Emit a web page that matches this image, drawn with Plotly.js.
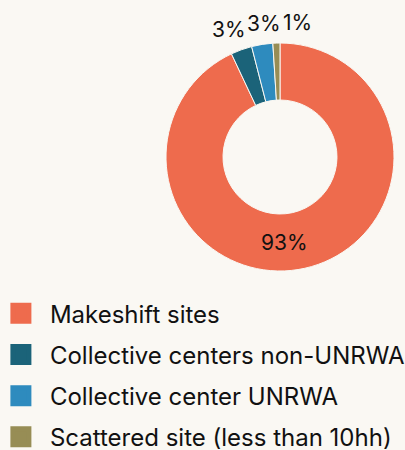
<!DOCTYPE html>
<html>
<head>
<meta charset="utf-8">
<script src="https://cdn.plot.ly/plotly-3.0.1.min.js"></script>
<style>html,body{margin:0;padding:0;background:#faf8f3;}#chart{width:405px;height:450px;}</style>
</head>
<body>
<div id="chart"></div>
<script>
const categories = ["Makeshift sites", "Collective centers non-UNRWA", "Collective center UNRWA", "Scattered site (less than 10hh)"];
const shares = [93, 3, 3, 1];
const colors = ["#ee6b4d", "#1b6379", "#2e8bbe", "#978d55"];

const W = 405, H = 450;
const CX = 280, CY = 157, R = 114, HOLE = 0.5;   // donut placement in pixels
const LABEL_FS = 21;
const total = shares.reduce((a, b) => a + b, 0);
const fmtPct = v => Math.round(100 * v / total) + "%";

const pie = {
  type: "pie",
  labels: categories,
  values: shares,
  sort: false,
  direction: "clockwise",
  rotation: 0,
  hole: HOLE,
  marker: {colors: colors, line: {color: "#faf8f3", width: 1}},
  textinfo: "none",
  showlegend: false,
  domain: {x: [(CX - R) / W, (CX + R) / W], y: [1 - (CY + R) / H, 1 - (CY - R) / H]}
};

// percentage labels placed from each slice's angles
const annotations = [];
let cum = 0, prevRight = -Infinity;
shares.forEach((v, i) => {
  const a0 = cum / total * 2 * Math.PI;
  cum += v;
  const a1 = cum / total * 2 * Math.PI;
  const mid = (a0 + a1) / 2;
  const txt = fmtPct(v);
  const font = {family: "Inter", size: LABEL_FS, color: "#111111"};
  if (v / total >= 0.1) {
    // large slice: inside the ring, at the slice angle nearest the bottom
    const ang = Math.min(Math.max(Math.PI, a0), a1);
    const rm = R * (1 + HOLE) / 2;
    annotations.push({
      text: txt, xref: "paper", yref: "paper",
      x: (CX + rm * Math.sin(ang)) / W, y: 1 - (CY - rm * Math.cos(ang)) / H,
      xanchor: "center", yanchor: "middle", xshift: 4, showarrow: false, font: font
    });
    return;
  }
  const w = txt.length * 0.7 * LABEL_FS;
  const rr = R + 6;
  const px = CX + rr * Math.sin(mid), py = CY - rr * Math.cos(mid);
  let left = Math.sin(mid) < -0.1 ? px - w : (Math.sin(mid) > 0.1 ? px : px - w / 2);
  left = Math.max(left, prevRight + 6);
  prevRight = left + w;
  annotations.push({
    text: txt, xref: "paper", yref: "paper",
    x: left / W, y: 1 - py / H, xanchor: "left", yanchor: "bottom",
    showarrow: false, font: font
  });
});

const legendTraces = categories.map((c, i) => ({
  type: "scatter",
  mode: "markers",
  x: [null], y: [null],
  name: c,
  legendgroup: "g" + i,
  marker: {symbol: "square", size: 16, color: colors[i], line: {color: colors[i], width: 5}},
  showlegend: true,
  hoverinfo: "skip"
}));

const layout = {
  width: W, height: H,
  margin: {l: 0, r: 0, t: 0, b: 0, autoexpand: false},
  paper_bgcolor: "#faf8f3",
  plot_bgcolor: "#faf8f3",
  font: {family: "Inter", color: "#111111"},
  xaxis: {visible: false, domain: [0, 0.01]},
  yaxis: {visible: false, domain: [0, 0.01]},
  annotations: annotations,
  showlegend: true,
  legend: {
    orientation: "v",
    x: -0.02, xanchor: "left",
    y: 0.353, yanchor: "top",
    font: {family: "Inter", size: 24, color: "#111111"},
    itemwidth: 48,
    tracegroupgap: 7,
    traceorder: "grouped",
    bgcolor: "rgba(0,0,0,0)"
  }
};

Plotly.newPlot("chart", [pie].concat(legendTraces), layout, {displayModeBar: false, staticPlot: true});
</script>
</body>
</html>
